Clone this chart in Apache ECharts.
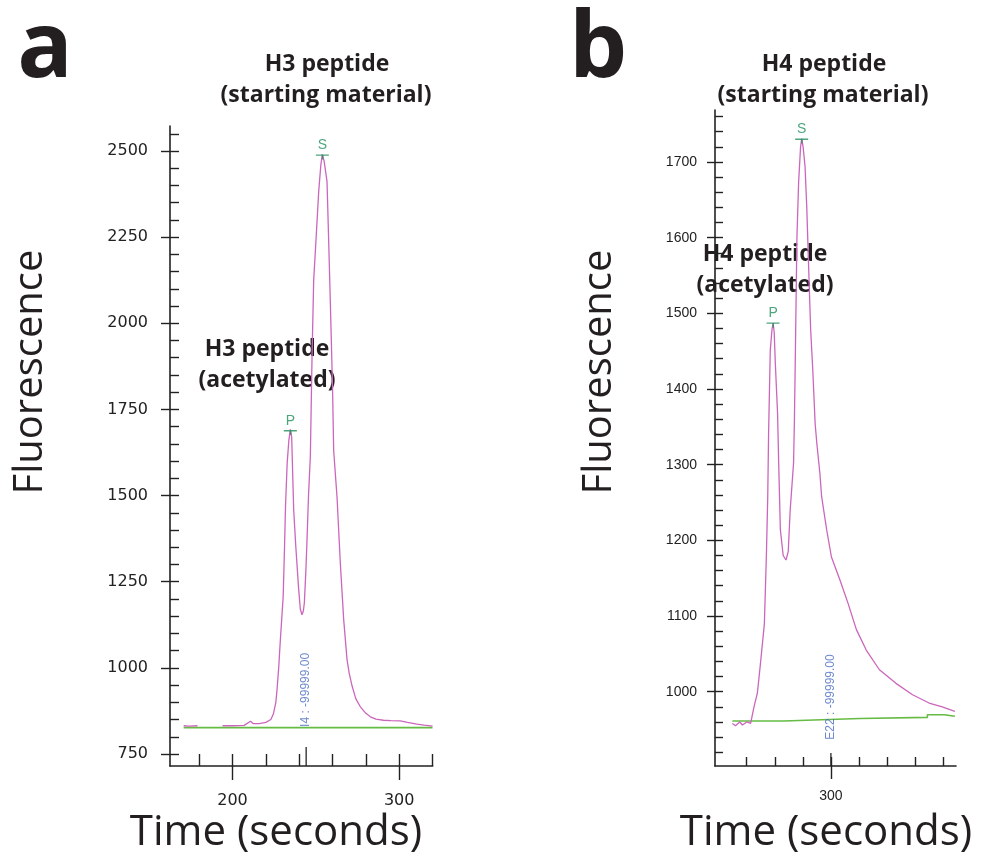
<!DOCTYPE html>
<html>
<head>
<meta charset="utf-8">
<script src="https://cdn.jsdelivr.net/npm/echarts@6/dist/echarts.min.js"></script>
<style>
  html, body { margin: 0; background: #fff; }
  #chart { width: 981px; height: 861px; }
</style>
</head>
<body>
<div id="chart"></div>
<script>
// panel a : H3 trace [time (s), fluorescence]
var traceA = [
  [170.7, 832], [174, 831], [179, 832], null,
  [194, 832], [200, 832], [207, 833], [210.8, 845], [212.5, 838], [216, 838], [220, 842],
  [223, 850], [224.5, 866], [226, 900], [226.7, 936], [227.7, 1000], [228.7, 1081],
  [229.5, 1140], [230.4, 1207], [231.2, 1350], [231.8, 1469], [232.8, 1595], [233.8, 1660],
  [234.7, 1692], [235.5, 1670], [236.7, 1459], [238, 1350], [239.7, 1227], [240.7, 1170],
  [241.7, 1154], [242.5, 1165], [243.1, 1189], [244, 1280], [244.7, 1372], [245.6, 1500],
  [246.7, 1614], [247.7, 1900], [248.7, 2125], [250.3, 2260], [251.7, 2382], [253, 2460],
  [253.9, 2490], [255, 2470], [256.7, 2411], [257.9, 2203], [258.7, 2058], [260, 1815],
  [260.7, 1630], [262.7, 1496], [264.7, 1303], [266.7, 1140], [268.7, 1024], [270, 985],
  [271.7, 948], [274, 910], [276.7, 887], [280, 868], [282.7, 858], [286, 851],
  [290.6, 848], [295, 847], [300.6, 846], [305, 842], [310.6, 837], [315, 834], [320, 831]
];
var baselineA = [[170.7, 826.5], [320, 826.5]];
var peaksA = [['P', 234.7, 1690], ['S', 253.9, 2490]];
var eventA = ['I4 : -99999.00', 244.2, 936];

// panel b : H4 trace
var traceB = [
  [264.9, 958], [266, 955], [267.5, 960], [268.5, 956], [270, 960], [271.4, 958],
  [272.6, 980], [273.8, 998], [274.9, 1037], [276.3, 1090], [277, 1178], [277.5, 1258],
  [277.8, 1341], [278.4, 1451], [279, 1478], [279.4, 1487], [279.8, 1475], [280.2, 1434],
  [281, 1368], [281.4, 1302], [282, 1214], [283, 1180], [284, 1174], [284.8, 1185],
  [285.5, 1240], [286.7, 1302], [287, 1358], [287.3, 1434], [287.9, 1600], [288.5, 1673],
  [289.2, 1720], [289.6, 1731], [290.1, 1720], [290.8, 1694], [291.4, 1641], [292, 1570],
  [292.8, 1478], [293.5, 1429], [294.4, 1354], [295, 1328], [296.1, 1288], [296.7, 1258],
  [298.5, 1214], [300.2, 1178], [303.2, 1148], [306.1, 1117], [309.1, 1082], [312.6, 1055],
  [317.3, 1029], [323.2, 1011], [329.1, 996], [335, 985], [339.7, 980], [344.2, 974]
];
var baselineB = [
  [264.9, 961.3], [283.3, 961.3], [283.3, 963], [296.7, 963], [296.7, 964.6],
  [310.4, 964.6], [310.4, 966], [334.4, 966], [334.4, 969.5], [340.4, 969.5],
  [340.4, 967.5], [344.2, 967.5]
];
var peaksB = [['P', 279.4, 1488], ['S', 289.6, 1731]];
var eventB = ['E22 : -99999.00', 300, 993];

// axes ticks
var yMajorA = [750, 1000, 1250, 1500, 1750, 2000, 2250, 2500];
var yMinorA = [];
for (var v = 750; v <= 2550; v += 50) yMinorA.push(v);
var xMajorA = [200, 300];
var xMinorA = [180, 200, 220, 240, 260, 280, 300, 320];
var yMajorB = [1000, 1100, 1200, 1300, 1400, 1500, 1600, 1700];
var yMinorB = [];
for (var w = 920; w <= 1760; w += 20) yMinorB.push(w);
var xMajorB = [300];
var xMinorB = [270, 280, 290, 300, 310, 320, 330, 340];

var rangeA = { xMin: 162.5, xMax: 320.1, yMin: 715.2, yMax: 2572.5 };
var rangeB = { xMin: 258.7, xMax: 344.6, yMin: 901.8, yMax: 1768.7 };

var PINK = '#cc66bb';
var GREEN = '#66bb44';
var MARK_GREEN = '#21905a';
var BLUE = '#4a6cc0';
var AXIS = '#222';

var chart = echarts.init(document.getElementById('chart'));

function majorAxis(pos, grid, r, values, fontFamily, fontSize, margin, tickLen, isX) {
  return {
    type: 'value', gridIndex: grid, position: pos,
    min: isX ? r.xMin : r.yMin, max: isX ? r.xMax : r.yMax,
    axisLine: { show: true, lineStyle: { color: AXIS, width: 1.6 } },
    axisTick: { show: true, inside: false, length: tickLen, customValues: values, lineStyle: { color: AXIS, width: 1.4 } },
    axisLabel: {
      show: true, customValues: values, margin: margin, color: AXIS,
      fontFamily: fontFamily, fontSize: fontSize,
      formatter: function (val) { return String(val); }
    },
    splitLine: { show: false }
  };
}
function minorAxis(pos, grid, r, values, tickLen, isX) {
  return {
    type: 'value', gridIndex: grid, position: pos,
    min: isX ? r.xMin : r.yMin, max: isX ? r.xMax : r.yMax,
    axisLine: { show: false },
    axisTick: { show: true, inside: true, length: tickLen, customValues: values, lineStyle: { color: AXIS, width: 1.4 } },
    axisLabel: { show: false },
    splitLine: { show: false }
  };
}

function peakSeries(peaks, xi, yi) {
  return {
    type: 'scatter', xAxisIndex: xi, yAxisIndex: yi,
    symbol: 'path://M0,0 L13,0 L13,1.4 L0,1.4 Z M6,1.4 L7.4,1.4 L7.4,5 L6,5 Z',
    symbolSize: [13, 5], symbolOffset: [0, 2.5],
    itemStyle: { color: MARK_GREEN },
    label: { show: true, position: 'top', distance: 2, color: MARK_GREEN, fontFamily: 'Liberation Sans', fontSize: 14, formatter: function (p) { return p.name; } },
    data: peaks.map(function (p) { return { name: p[0], value: [p[1], p[2]] }; }),
    silent: true, clip: false, z: 5
  };
}
function eventSeries(ev, r, xi, yi, tickH) {
  return [{
    type: 'scatter', xAxisIndex: xi, yAxisIndex: yi,
    symbol: 'rect', symbolSize: [1.6, tickH], symbolOffset: [0, -tickH / 2],
    itemStyle: { color: AXIS },
    data: [[ev[1], r.yMin]], clip: false, silent: true
  }, {
    type: 'scatter', xAxisIndex: xi, yAxisIndex: yi,
    symbolSize: 0,
    label: { show: true, position: 'inside', rotate: 90, color: BLUE, fontFamily: 'Liberation Sans', fontSize: 12, formatter: function (p) { return p.name; } },
    data: [{ name: ev[0], value: [ev[1], ev[2]] }], clip: false, silent: true, z: 6
  }];
}

function txt(x, y, text, size, weight, rot) {
  return {
    type: 'text', x: x, y: y, rotation: rot || 0, silent: true,
    style: { text: text, fill: '#231f20', font: weight + ' ' + size + 'px "Open Sans"', textAlign: 'center', textVerticalAlign: 'middle' }
  };
}

option = {
  animation: false,
  backgroundColor: '#fff',
  grid: [
    { left: 170, top: 126, width: 262.7, height: 640 },
    { left: 715, top: 110, width: 241, height: 656 }
  ],
  xAxis: [
    majorAxis('bottom', 0, rangeA, xMajorA, 'DejaVu Sans', 16, 27, 14, true),
    minorAxis('bottom', 0, rangeA, xMinorA, 12, true),
    majorAxis('bottom', 1, rangeB, xMajorB, 'Liberation Sans', 14, 23, 13, true),
    minorAxis('bottom', 1, rangeB, xMinorB, 9, true)
  ],
  yAxis: [
    majorAxis('left', 0, rangeA, yMajorA, 'DejaVu Sans', 16, 22, 9, false),
    minorAxis('left', 0, rangeA, yMinorA, 9, false),
    majorAxis('left', 1, rangeB, yMajorB, 'Liberation Sans', 14, 18, 8, false),
    minorAxis('left', 1, rangeB, yMinorB, 8, false)
  ],
  series: [
    { type: 'line', xAxisIndex: 0, yAxisIndex: 0, data: baselineA, showSymbol: false, lineStyle: { color: GREEN, width: 1.6 }, silent: true },
    { type: 'line', xAxisIndex: 0, yAxisIndex: 0, data: traceA, showSymbol: false, connectNulls: false, lineStyle: { color: PINK, width: 1.3 }, silent: true },
    peakSeries(peaksA, 0, 0),
    { type: 'line', xAxisIndex: 2, yAxisIndex: 2, data: baselineB, showSymbol: false, lineStyle: { color: GREEN, width: 1.6 }, silent: true },
    { type: 'line', xAxisIndex: 2, yAxisIndex: 2, data: traceB, showSymbol: false, lineStyle: { color: PINK, width: 1.3 }, silent: true },
    peakSeries(peaksB, 2, 2)
  ].concat(eventSeries(eventA, rangeA, 0, 0, 19)).concat(eventSeries(eventB, rangeB, 2, 2, 13)),
  graphic: [
    txt(45, 51, 'a', 92, 'bold'),
    txt(598, 51, 'b', 92, 'bold'),
    txt(327, 64, 'H3 peptide', 23, 'bold'),
    txt(326, 95, '(starting material)', 23, 'bold'),
    txt(824, 64, 'H4 peptide', 23, 'bold'),
    txt(823, 95, '(starting material)', 23, 'bold'),
    txt(267, 349, 'H3 peptide', 23, 'bold'),
    txt(267, 380, '(acetylated)', 23, 'bold'),
    txt(765, 254, 'H4 peptide', 23, 'bold'),
    txt(765, 285, '(acetylated)', 23, 'bold'),
    txt(31, 372, 'Fluorescence', 40, 'normal', Math.PI / 2),
    txt(600, 372, 'Fluorescence', 40, 'normal', Math.PI / 2),
    txt(276, 833, 'Time (seconds)', 42, 'normal'),
    txt(826, 833, 'Time (seconds)', 42, 'normal')
  ]
};

chart.setOption(option);
</script>
</body>
</html>
